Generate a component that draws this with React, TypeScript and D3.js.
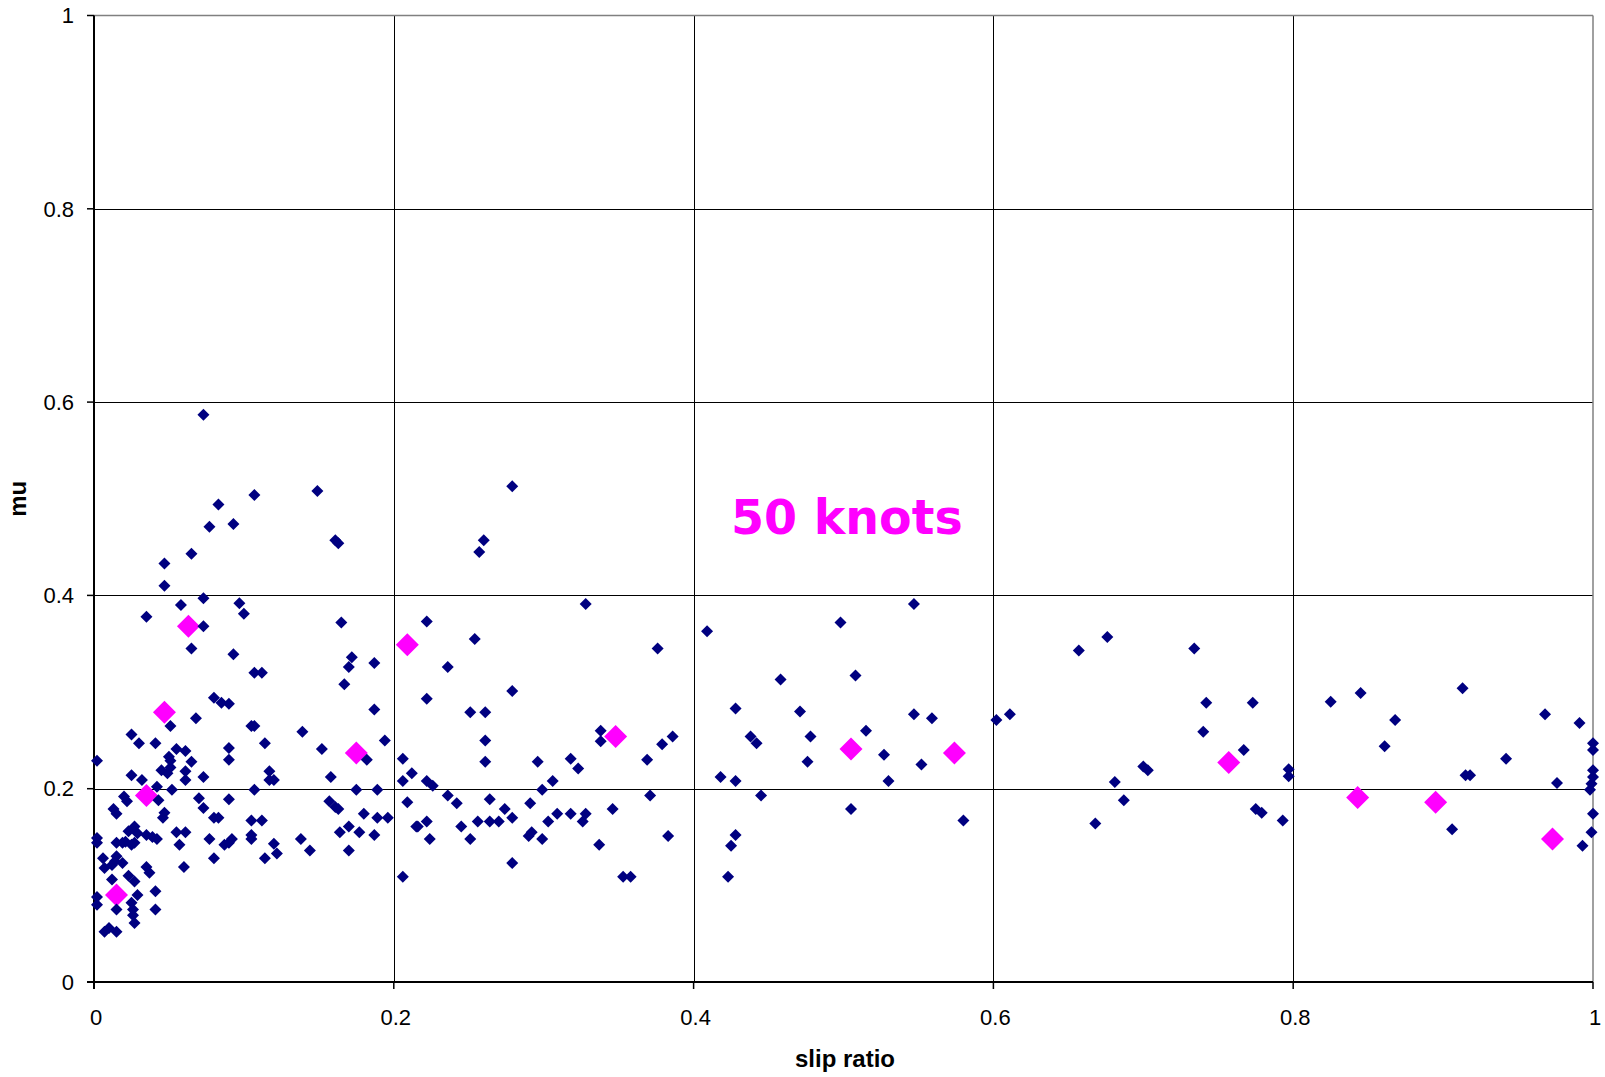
import React from "react";
import * as d3 from "d3";

// Measured scatter (navy) - slip ratio / mu
const navySlip = [
  0.073, 0.107, 0.149, 0.083, 0.077, 0.093, 0.161, 0.163, 0.065, 0.047,
  0.047, 0.058, 0.073, 0.097, 0.100, 0.035, 0.073, 0.065, 0.093, 0.107,
  0.112, 0.165, 0.172, 0.170, 0.187, 0.167, 0.080, 0.085, 0.090, 0.187,
  0.051, 0.068, 0.025, 0.030, 0.041, 0.055, 0.061, 0.050, 0.051, 0.090,
  0.090, 0.105, 0.107, 0.114, 0.139, 0.152, 0.182, 0.194, 0.002, 0.065,
  0.025, 0.032, 0.045, 0.049, 0.051, 0.061, 0.061, 0.073, 0.042, 0.052,
  0.020, 0.022, 0.043, 0.013, 0.015, 0.047, 0.046, 0.070, 0.073, 0.090,
  0.107, 0.117, 0.117, 0.120, 0.158, 0.175, 0.189, 0.157, 0.161, 0.163,
  0.180, 0.189, 0.196, 0.170, 0.164, 0.177, 0.187, 0.170, 0.080, 0.083,
  0.105, 0.112, 0.105, 0.105, 0.120, 0.122, 0.114, 0.138, 0.144, 0.090,
  0.092, 0.087, 0.077, 0.080, 0.055, 0.061, 0.057, 0.060, 0.002, 0.002,
  0.027, 0.023, 0.029, 0.035, 0.039, 0.042, 0.015, 0.019, 0.021, 0.025,
  0.027, 0.006, 0.007, 0.012, 0.015, 0.019, 0.014, 0.035, 0.037, 0.012,
  0.023, 0.027, 0.041, 0.002, 0.002, 0.029, 0.025, 0.026, 0.026, 0.027,
  0.015, 0.041, 0.007, 0.010, 0.015, 0.206, 0.212, 0.206, 0.209, 0.215,
  0.206, 0.279, 0.260, 0.257, 0.328, 0.222, 0.254, 0.376, 0.236, 0.279,
  0.222, 0.251, 0.261, 0.261, 0.261, 0.338, 0.338, 0.386, 0.379, 0.369,
  0.318, 0.323, 0.296, 0.306, 0.299, 0.371, 0.222, 0.226, 0.236, 0.242,
  0.264, 0.274, 0.291, 0.279, 0.309, 0.303, 0.318, 0.328, 0.326, 0.346,
  0.222, 0.216, 0.224, 0.245, 0.256, 0.264, 0.270, 0.251, 0.290, 0.292,
  0.299, 0.337, 0.383, 0.279, 0.353, 0.358, 0.409, 0.498, 0.547, 0.458,
  0.508, 0.428, 0.471, 0.547, 0.559, 0.602, 0.611, 0.438, 0.442, 0.478,
  0.515, 0.527, 0.476, 0.552, 0.418, 0.428, 0.530, 0.445, 0.505, 0.580,
  0.428, 0.425, 0.423, 0.657, 0.676, 0.734, 0.742, 0.773, 0.740, 0.767,
  0.700, 0.703, 0.681, 0.687, 0.668, 0.797, 0.797, 0.775, 0.779, 0.793,
  0.825, 0.845, 0.868, 0.861, 0.913, 0.906, 0.915, 0.918, 0.942, 0.968,
  0.991, 0.976, 0.993, 0.999, 1.0, 1.0, 1.0, 1.0, 1.0, 0.999, 0.998,
];
const navyMu = [
  0.587, 0.504, 0.508, 0.494, 0.471, 0.474, 0.457, 0.454, 0.443, 0.433,
  0.410, 0.390, 0.397, 0.392, 0.381, 0.378, 0.368, 0.345, 0.339, 0.320,
  0.320, 0.372, 0.336, 0.326, 0.330, 0.308, 0.294, 0.289, 0.288, 0.282,
  0.265, 0.273, 0.256, 0.247, 0.247, 0.241, 0.239, 0.233, 0.229, 0.242,
  0.230, 0.265, 0.265, 0.247, 0.259, 0.241, 0.230, 0.250, 0.229, 0.228,
  0.214, 0.209, 0.219, 0.216, 0.222, 0.218, 0.209, 0.212, 0.202, 0.199,
  0.192, 0.187, 0.188, 0.179, 0.174, 0.175, 0.170, 0.190, 0.180, 0.189,
  0.199, 0.218, 0.209, 0.209, 0.212, 0.199, 0.199, 0.187, 0.181, 0.179,
  0.174, 0.170, 0.170, 0.161, 0.155, 0.155, 0.152, 0.136, 0.170, 0.170,
  0.167, 0.167, 0.152, 0.148, 0.143, 0.133, 0.128, 0.148, 0.136, 0.144,
  0.148, 0.142, 0.148, 0.128, 0.155, 0.155, 0.142, 0.119, 0.149, 0.144,
  0.161, 0.156, 0.154, 0.152, 0.150, 0.148, 0.144, 0.144, 0.145, 0.142,
  0.144, 0.128, 0.118, 0.121, 0.130, 0.123, 0.125, 0.119, 0.113, 0.106,
  0.110, 0.104, 0.094, 0.088, 0.080, 0.090, 0.082, 0.075, 0.069, 0.061,
  0.075, 0.075, 0.052, 0.056, 0.052, 0.231, 0.216, 0.208, 0.186, 0.161,
  0.109, 0.513, 0.457, 0.445, 0.391, 0.373, 0.355, 0.345, 0.326, 0.301,
  0.293, 0.279, 0.279, 0.250, 0.228, 0.260, 0.249, 0.254, 0.246, 0.230,
  0.231, 0.221, 0.228, 0.208, 0.199, 0.193, 0.208, 0.203, 0.193, 0.185,
  0.189, 0.179, 0.185, 0.170, 0.174, 0.166, 0.174, 0.174, 0.166, 0.179,
  0.166, 0.161, 0.148, 0.161, 0.166, 0.166, 0.166, 0.148, 0.151, 0.155,
  0.148, 0.142, 0.151, 0.123, 0.109, 0.109, 0.363, 0.372, 0.391, 0.313,
  0.317, 0.283, 0.280, 0.277, 0.273, 0.271, 0.277, 0.254, 0.247, 0.254,
  0.260, 0.235, 0.228, 0.225, 0.212, 0.208, 0.208, 0.193, 0.179, 0.167,
  0.152, 0.141, 0.109, 0.343, 0.357, 0.345, 0.289, 0.289, 0.259, 0.240,
  0.223, 0.219, 0.207, 0.188, 0.164, 0.220, 0.213, 0.179, 0.175, 0.167,
  0.290, 0.299, 0.271, 0.244, 0.304, 0.158, 0.214, 0.214, 0.231, 0.277,
  0.268, 0.206, 0.141, 0.155, 0.174, 0.247, 0.240, 0.219, 0.212, 0.205, 0.199,
];

// 50 knots series (magenta)
const knotsSlip = [0.015, 0.035, 0.047, 0.063, 0.175, 0.209, 0.348, 0.505, 0.574, 0.757, 0.843, 0.895, 0.973];
const knotsMu = [0.090, 0.193, 0.279, 0.368, 0.237, 0.349, 0.254, 0.241, 0.237, 0.227, 0.191, 0.186, 0.148];

const xTicks = [0, 0.2, 0.4, 0.6, 0.8, 1];
const yTicks = [0, 0.2, 0.4, 0.6, 0.8, 1];
const xTitle = "slip ratio";
const yTitle = "mu";
const annotation = "50 knots";

const W = 1605;
const H = 1077;
const plot = { left: 94, right: 1593, top: 15.5, bottom: 982 };

const diamond = (r: number) => `M0,${-r}L${r},0L0,${r}L${-r},0Z`;

export default function App() {
  const x = d3.scaleLinear().domain([0, 1]).range([plot.left, plot.right]);
  const y = d3.scaleLinear().domain([0, 1]).range([plot.bottom, plot.top]);
  const fmt = (v: number) => d3.format("")(+v.toFixed(1));
  const navy = navySlip.map((s, i) => [s, navyMu[i]]);
  const knots = knotsSlip.map((s, i) => [s, knotsMu[i]]);
  const font = "Arial, 'Liberation Sans', sans-serif";
  return (
    <svg
      width={W}
      height={H}
      style={{ position: "absolute", left: 0, top: 0, display: "block", background: "#fff" }}
    >
      <rect x={0} y={0} width={W} height={H} fill="#fff" />
      {/* gridlines */}
      {xTicks.slice(1, -1).map((t) => (
        <line key={"gx" + t} x1={Math.round(x(t)) + 0.5} x2={Math.round(x(t)) + 0.5} y1={plot.top} y2={plot.bottom} stroke="#000" strokeWidth={1} />
      ))}
      {yTicks.slice(1, -1).map((t) => (
        <line key={"gy" + t} x1={plot.left} x2={plot.right} y1={Math.round(y(t)) + 0.5} y2={Math.round(y(t)) + 0.5} stroke="#000" strokeWidth={1} />
      ))}
      {/* top and right border */}
      <line x1={plot.left} x2={plot.right} y1={plot.top} y2={plot.top} stroke="#808080" strokeWidth={1.5} />
      <line x1={plot.right} x2={plot.right} y1={plot.top} y2={plot.bottom} stroke="#808080" strokeWidth={1.5} />
      {/* axes */}
      <line x1={plot.left} x2={plot.left} y1={plot.top} y2={plot.bottom + 7} stroke="#000" strokeWidth={2} />
      <line x1={plot.left - 7} x2={plot.right} y1={plot.bottom} y2={plot.bottom} stroke="#000" strokeWidth={2} />
      {yTicks.map((t) => (
        <line key={"ty" + t} x1={plot.left - 7} x2={plot.left} y1={y(t)} y2={y(t)} stroke="#000" strokeWidth={1.5} />
      ))}
      {xTicks.map((t) => (
        <line key={"tx" + t} x1={x(t)} x2={x(t)} y1={plot.bottom} y2={plot.bottom + 7} stroke="#000" strokeWidth={1.5} />
      ))}
      {yTicks.map((t) => (
        <text key={"ly" + t} x={74} y={y(t)} dy="0.35em" textAnchor="end" fontFamily={font} fontSize={22} fill="#000">
          {fmt(t)}
        </text>
      ))}
      {xTicks.map((t) => (
        <text key={"lx" + t} x={x(t) + 2} y={1025} textAnchor="middle" fontFamily={font} fontSize={22} fill="#000">
          {fmt(t)}
        </text>
      ))}
      {/* series */}
      {knots.map(([s, m], i) => (
        <path key={"k" + i} d={diamond(11.5)} transform={`translate(${x(s)},${y(m)})`} fill="#FF00FF" />
      ))}
      {navy.map(([s, m], i) => (
        <path key={"n" + i} d={diamond(6)} transform={`translate(${x(s)},${y(m)})`} fill="#000080" />
      ))}
      {/* titles */}
      <text x={845} y={1067} textAnchor="middle" fontFamily={font} fontWeight="bold" fontSize={24} fill="#000">
        {xTitle}
      </text>
      <text transform={`translate(26,${(plot.top + plot.bottom) / 2}) rotate(-90)`} textAnchor="middle" fontFamily={font} fontWeight="bold" fontSize={24} fill="#000">
        {yTitle}
      </text>
      <text x={731} y={534} fontFamily="'DejaVu Sans', Verdana, sans-serif" fontWeight="bold" fontSize={47.5} fill="#FF00FF">
        {annotation}
      </text>
    </svg>
  );
}
